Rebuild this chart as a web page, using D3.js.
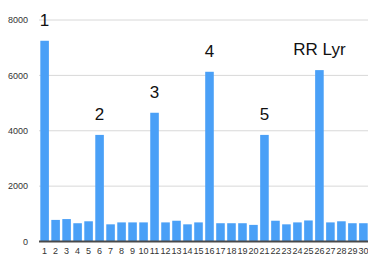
<!DOCTYPE html>
<meta charset="utf-8">
<head>
  <title>RR Lyr bar chart</title>
</head>

<style>
body { margin: 0; background: #fff; }
text {
  font-family: "Liberation Sans", Helvetica, Arial, sans-serif;
  fill: #222;
}
.grid line { stroke: #d8d8d8; stroke-width: 1; }
.tick-label { font-size: 9px; fill: #333; }
.bar-label { font-size: 17px; fill: #111; }
</style>

<body>
  <svg width="368" height="258"></svg>

  <script src="https://d3js.org/d3.v7.min.js"></script>
  <script>
var categories = d3.range(1, 31).map(String);
var values = [7250, 780, 810, 660, 730, 3850, 620, 690, 690, 690,
              4650, 690, 750, 620, 690, 6130, 660, 660, 660, 600,
              3850, 750, 620, 690, 760, 6190, 690, 730, 660, 660];
var yTicks = [0, 2000, 4000, 6000, 8000];
var labelCats = ["1", "6", "11", "16", "21", "26"];
var labelNames = ["1", "2", "3", "4", "5", "RR Lyr"];

var svg = d3.select('svg');

var x = d3.scaleBand()
  .domain(categories)
  .range([39, 369])
  .paddingInner(0.22)
  .paddingOuter(0.12);

var y = d3.scaleLinear()
  .domain([0, 8000])
  .range([241.5, 20]);

// gridlines
svg.append('g').attr('class', 'grid')
  .selectAll('line')
  .data(yTicks.slice(1))
  .enter()
  .append('line')
  .attr('x1', 39)
  .attr('x2', 368)
  .attr('y1', function(d) { return y(d); })
  .attr('y2', function(d) { return y(d); });

// y tick labels
svg.append('g')
  .selectAll('text')
  .data(yTicks)
  .enter()
  .append('text')
  .attr('class', 'tick-label')
  .attr('x', 28)
  .attr('y', function(d) { return y(d); })
  .attr('dy', '0.35em')
  .attr('text-anchor', 'end')
  .text(function(d) { return d; });

// bars
svg.append('g')
  .selectAll('rect')
  .data(values)
  .enter()
  .append('rect')
  .attr('x', function(d, i) { return x(categories[i]); })
  .attr('y', function(d) { return y(d); })
  .attr('width', x.bandwidth())
  .attr('height', function(d) { return y(0) - y(d); })
  .attr('fill', '#4aa0f7');

// baseline
svg.append('line')
  .attr('x1', 39)
  .attr('x2', 368)
  .attr('y1', y(0))
  .attr('y2', y(0))
  .attr('stroke', '#4a4a4a')
  .attr('stroke-width', 2);

// x tick labels
svg.append('g')
  .selectAll('text')
  .data(categories)
  .enter()
  .append('text')
  .attr('class', 'tick-label')
  .attr('x', function(d) { return x(d) + x.bandwidth() / 2; })
  .attr('y', 254)
  .attr('text-anchor', 'middle')
  .text(function(d) { return d; });

// star labels
svg.append('g')
  .selectAll('text')
  .data(labelNames)
  .enter()
  .append('text')
  .attr('class', 'bar-label')
  .attr('x', function(d, i) { return x(labelCats[i]) + x.bandwidth() / 2; })
  .attr('y', function(d, i) { return y(values[+labelCats[i] - 1]) - 15; })
  .attr('text-anchor', 'middle')
  .text(function(d) { return d; });
  </script>
</body>
</html>
